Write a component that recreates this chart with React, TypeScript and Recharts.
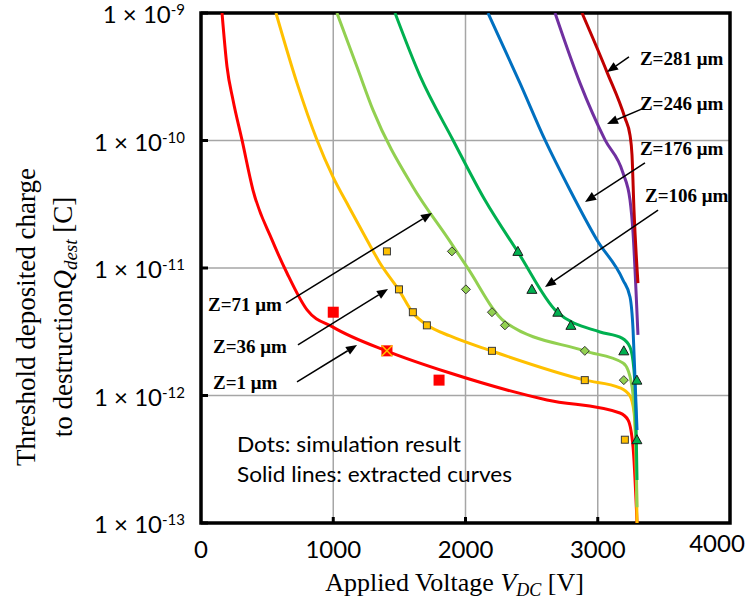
import React from 'react'
import {
  ComposedChart, Line, Scatter, XAxis, YAxis, CartesianGrid,
  ReferenceLine, ReferenceDot, ReferenceArea,
} from 'recharts'

// axes
const xTicks = [0, 1000, 2000, 3000, 4000]
const yTicks = [1e-13, 1e-12, 1e-11, 1e-10, 1e-9]

// extracted curves: applied voltage [V] / Qdest [C]
const z1V = [159, 197, 242, 310, 393, 537, 650, 802, 998, 1406, 1883, 2616, 3168, 3229, 3267, 3297]
const z1Q = [1e-9, 3.77e-10, 2.08e-10, 1.01e-10, 4.09e-11, 1.66e-11, 9.14e-12, 4.69e-12, 3.44e-12, 2.23e-12, 1.5e-12, 9.23e-13, 7.29e-13, 6.43e-13, 3.94e-13, 1e-13]

const z36V = [567, 726, 877, 998, 1119, 1255, 1354, 1497, 1603, 1709, 1883, 2200, 2904, 3168, 3244, 3274, 3289, 3297]
const z36Q = [1e-9, 2.82e-10, 1.01e-10, 5.18e-11, 3.01e-11, 1.66e-11, 1.09e-11, 6.71e-12, 4.44e-12, 3.57e-12, 2.93e-12, 2.23e-12, 1.32e-12, 1.15e-12, 9.9e-13, 7.43e-13, 3.74e-13, 1e-13]

const z71V = [1028, 1180, 1301, 1603, 1875, 2011, 2299, 2904, 3191, 3229, 3267, 3289, 3297]
const z71Q = [1e-9, 3.77e-10, 1.73e-10, 4.32e-11, 1.66e-11, 1.02e-11, 3.77e-12, 2.23e-12, 1.8e-12, 1.58e-12, 1.01e-12, 3.74e-13, 1.33e-13]

const z106V = [1467, 1656, 1905, 2147, 2397, 2692, 3017, 3183, 3244, 3274, 3289, 3297]
const z106Q = [1e-9, 3.21e-10, 1.01e-10, 3.41e-11, 1.33e-11, 4.52e-12, 3.15e-12, 2.82e-12, 2.4e-12, 1.58e-12, 6.43e-13, 2.17e-13]

const z176V = [2170, 2412, 2601, 2790, 2994, 3191, 3244, 3267, 3282, 3297]
const z176Q = [1e-9, 2.82e-10, 1.01e-10, 4.09e-11, 1.66e-11, 8.05e-12, 5.93e-12, 3.27e-12, 1.32e-12, 5.36e-13]

const z246V = [2677, 2866, 3055, 3191, 3244, 3267, 3289, 3304]
const z246Q = [1e-9, 2.82e-10, 1.01e-10, 5.56e-11, 3.41e-11, 1.88e-11, 6.71e-12, 2.99e-12]

const z281V = [2881, 3070, 3206, 3244, 3259, 3274, 3304]
const z281Q = [1e-9, 3.44e-10, 1.5e-10, 1.1e-10, 7.69e-11, 2.85e-11, 7.62e-12]

// simulation results (dots)
const redV = [1000, 1800]
const redQ = [4.5e-12, 1.32e-12]
const crossV = [1406]
const crossQ = [2.24e-12]
const squareV = [1406, 1497, 1602, 1708, 2200, 2902, 3205]
const squareQ = [1.35e-11, 6.8e-12, 4.5e-12, 3.55e-12, 2.24e-12, 1.32e-12, 4.5e-13]
const diamondV = [1897, 2003, 2200, 2298, 2902, 3197]
const diamondQ = [1.35e-11, 6.8e-12, 4.5e-12, 3.55e-12, 2.24e-12, 1.32e-12]
const triangleV = [2396, 2502, 2698, 2797, 3197, 3296, 3296]
const triangleQ = [1.35e-11, 6.8e-12, 4.5e-12, 3.55e-12, 2.24e-12, 1.32e-12, 4.5e-13]

// annotations
const zNames = ['Z=281 μm', 'Z=246 μm', 'Z=176 μm', 'Z=106 μm', 'Z=71 μm', 'Z=36 μm', 'Z=1 μm']
const zTextV = [3319, 3319, 3319, 3357, 53, 91, 91]
const zTextQ = [3.91e-10, 1.73e-10, 7.69e-11, 3.3e-11, 4.6e-12, 2.15e-12, 1.12e-12]
const arrowFromV = [3236, 3335, 3357, 3456, 643, 733, 726]
const arrowFromQ = [4.52e-10, 1.77e-10, 6.67e-11, 2.85e-11, 5.31e-12, 2.49e-12, 1.28e-12]
const arrowToV = [3070, 3070, 2904, 2601, 1747, 1414, 1180]
const arrowToQ = [3.44e-10, 1.35e-10, 3.3e-11, 7.1e-12, 2.7e-11, 6.84e-12, 2.49e-12]

const notes = ['Dots: simulation result', 'Solid lines: extracted curves']
const noteV = [272, 272]
const noteQ = [3.6e-13, 2.1e-13]
const noteWidths = [224, 275]

const zip = (v: number[], q: number[]) => v.map((x, i) => ({ v: x, q: q[i] }))

const curves = [
  { key: 'z1', color: '#FF0000', pts: zip(z1V, z1Q) },
  { key: 'z36', color: '#FFC000', pts: zip(z36V, z36Q) },
  { key: 'z71', color: '#92D050', pts: zip(z71V, z71Q) },
  { key: 'z106', color: '#00B050', pts: zip(z106V, z106Q) },
  { key: 'z176', color: '#0070C0', pts: zip(z176V, z176Q) },
  { key: 'z246', color: '#7030A0', pts: zip(z246V, z246Q) },
  { key: 'z281', color: '#C00000', pts: zip(z281V, z281Q) },
]

const SANS = 'Lato, "Open Sans", sans-serif'
const SERIF = '"Liberation Serif", "Times New Roman", serif'

function YTick(props: any) {
  const { x, y, payload } = props
  const exp = Math.round(Math.log10(payload.value))
  return (
    <g>
      <line x1={x} x2={x + 7} y1={y} y2={y} stroke="#000" strokeWidth={3} />
      <text x={x - 16} y={y + 10} textAnchor="end" fontFamily={SANS} fontSize={24} fill="#000">
        1 × 10<tspan fontSize={15} dy={-8}>{exp}</tspan>
      </text>
    </g>
  )
}

function XTick(props: any) {
  const { x, y, payload } = props
  const v = payload.value
  const last = v === 4000
  return (
    <g>
      {v > 0 && v < 4000 && <line x1={x} x2={x} y1={y} y2={y - 6} stroke="#000" strokeWidth={3} />}
      <text x={last ? x - 13 : x} y={last ? y + 29 : y + 35} textAnchor="middle" fontFamily={SANS} fontSize={24} fill="#000">
        {v}
      </text>
    </g>
  )
}

const squareShape = (color: string, s: number, border: boolean) => (p: any) => (
  <rect x={p.cx - s / 2} y={p.cy - s / 2} width={s} height={s} fill={color}
    stroke={border ? '#3a3a3a' : 'none'} strokeWidth={1} />
)

const crossShape = (p: any) => (
  <g>
    <rect x={p.cx - 5.5} y={p.cy - 5.5} width={11} height={11} fill="#FF0000" />
    <path d={`M${p.cx - 5.5},${p.cy - 5.5}L${p.cx + 5.5},${p.cy + 5.5}M${p.cx + 5.5},${p.cy - 5.5}L${p.cx - 5.5},${p.cy + 5.5}`}
      stroke="#FFC000" strokeWidth={1.5} />
  </g>
)

const diamondShape = (p: any) => (
  <path d={`M${p.cx},${p.cy - 4.5}L${p.cx + 4.5},${p.cy}L${p.cx},${p.cy + 4.5}L${p.cx - 4.5},${p.cy}Z`}
    fill="#92D050" stroke="#3a3a3a" strokeWidth={1} />
)

const triangleShape = (p: any) => (
  <path d={`M${p.cx},${p.cy - 5}L${p.cx + 5},${p.cy + 4}L${p.cx - 5},${p.cy + 4}Z`}
    fill="#00B050" stroke="#1a1a1a" strokeWidth={1} />
)

const arrowShape = (p: any) => {
  const { x1, y1, x2, y2 } = p
  const a = Math.atan2(y2 - y1, x2 - x1)
  const L = 11, W = 4.5
  const bx = x2 - L * Math.cos(a), by = y2 - L * Math.sin(a)
  const nx = -Math.sin(a) * W, ny = Math.cos(a) * W
  return (
    <g>
      <line x1={x1} y1={y1} x2={bx} y2={by} stroke="#000" strokeWidth={1.5} />
      <path d={`M${x2},${y2}L${bx + nx},${by + ny}L${bx - nx},${by - ny}Z`} fill="#000" />
    </g>
  )
}

const zLabelShape = (text: string) => (p: any) => (
  <text x={p.cx} y={p.cy} fontFamily={SERIF} fontWeight="bold" fontSize={19} fill="#000">{text}</text>
)

const noteShape = (text: string, w: number) => (p: any) => (
  <text x={p.cx} y={p.cy} fontFamily={SANS} fontSize={22} fill="#000"
    textLength={w} lengthAdjust="spacingAndGlyphs">{text}</text>
)

const YLabel = (props: any) => {
  const { viewBox } = props
  const cy = viewBox.y + viewBox.height / 2 + 49
  return (
    <g fontFamily={SERIF} fontSize={27} fill="#000">
      <text x={35} y={cy} textAnchor="middle" transform={`rotate(-90, 35, ${cy})`}>
        Threshold deposited charge
      </text>
      <text x={72} y={cy} textAnchor="middle" transform={`rotate(-90, 72, ${cy})`}>
        to destruction<tspan fontStyle="italic">Q</tspan>
        <tspan fontStyle="italic" fontSize={19} dy={5}>dest</tspan>
        <tspan dy={-5}> [C]</tspan>
      </text>
    </g>
  )
}

const XLabel = (props: any) => {
  const { viewBox } = props
  const cx = viewBox.x + viewBox.width / 2 - 11
  return (
    <text x={cx} y={591} textAnchor="middle" fontFamily={SERIF} fontSize={26} fill="#000">
      Applied Voltage <tspan fontStyle="italic">V</tspan>
      <tspan fontStyle="italic" fontSize={18} dy={5}>DC</tspan>
      <tspan dy={-5}> [V]</tspan>
    </text>
  )
}

export default function App() {
  return (
    <div style={{ position: 'absolute', left: 0, top: 0, width: 750, height: 601, background: '#fff' }}>
      <ComposedChart width={750} height={601} margin={{ top: 13, right: 20, bottom: 0, left: 0 }}>
        <CartesianGrid stroke="#a6a6a6" strokeWidth={1.5} />
        <XAxis dataKey="v" type="number" domain={[0, 4000]} ticks={xTicks} height={78}
          axisLine={false} tickLine={false} tickSize={0} tickMargin={0} tick={<XTick />}
          label={<XLabel />} allowDataOverflow />
        <YAxis dataKey="q" type="number" scale="log" domain={[1e-13, 1e-9]} ticks={yTicks} width={201}
          axisLine={false} tickLine={false} tickSize={0} tickMargin={0} tick={<YTick />}
          label={<YLabel />} allowDataOverflow />
        {curves.map((c) => (
          <Line key={c.key} data={c.pts} dataKey="q" type="monotone" stroke={c.color} strokeWidth={3}
            dot={false} activeDot={false} isAnimationActive={false} />
        ))}
        <Scatter data={zip(redV, redQ)} dataKey="q" shape={squareShape('#FF0000', 11, false)} isAnimationActive={false} />
        <Scatter data={zip(crossV, crossQ)} dataKey="q" shape={crossShape} isAnimationActive={false} />
        <Scatter data={zip(squareV, squareQ)} dataKey="q" shape={squareShape('#FFC000', 7, true)} isAnimationActive={false} />
        <Scatter data={zip(diamondV, diamondQ)} dataKey="q" shape={diamondShape} isAnimationActive={false} />
        <Scatter data={zip(triangleV, triangleQ)} dataKey="q" shape={triangleShape} isAnimationActive={false} />
        {zNames.map((n, i) => (
          <ReferenceLine key={'a' + i} segment={[{ x: arrowFromV[i], y: arrowFromQ[i] }, { x: arrowToV[i], y: arrowToQ[i] }]}
            shape={arrowShape} />
        ))}
        {zNames.map((n, i) => (
          <ReferenceDot key={'t' + i} x={zTextV[i]} y={zTextQ[i]} r={0} shape={zLabelShape(n)} />
        ))}
        {notes.map((n, i) => (
          <ReferenceDot key={'n' + i} x={noteV[i]} y={noteQ[i]} r={0} shape={noteShape(n, noteWidths[i])} />
        ))}
        <ReferenceArea x1={0} x2={4000} y1={1e-13} y2={1e-9} fill="none" fillOpacity={0} stroke="#000" strokeWidth={3.5} />
      </ComposedChart>
    </div>
  )
}
